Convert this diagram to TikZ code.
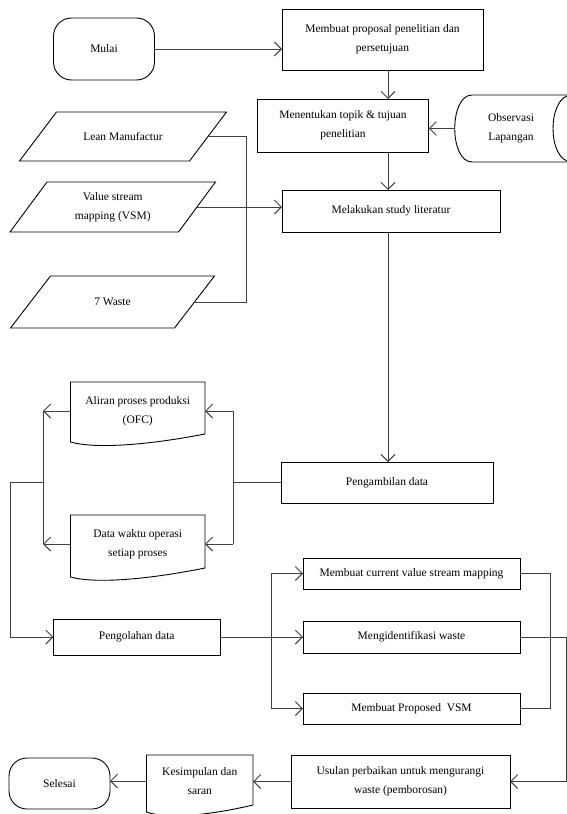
\documentclass[tikz,border=0pt]{standalone}
\usepackage{fontspec}
\setmainfont{Liberation Serif}
\usetikzlibrary{arrows.meta,calc}

% parallelogram (data input) around a node, slanted by #2
\newcommand\dataio[2]{%
  \draw[shapeline] ($(#1.north west)+(#2,0)$) -- ($(#1.north east)+(#2,0)$)
    -- ($(#1.south east)-(#2,0)$) -- ($(#1.south west)-(#2,0)$) -- cycle;}
% document shape: right depth #2, left depth #3 below the top edge
\newcommand\docshape[3]{%
  \draw[shapeline] ($(#1.north east)+(0,#2)$) coordinate (dR) -- (#1.north east)
    -- (#1.north west) -- ($(#1.north west)+(0,#3)$) coordinate (dL)
    .. controls ($(dL)!0.22!(dR)+(0,10)$) and ($(dL)!0.67!(dR)+(0,6)$) .. (dR);}

\tikzset{
  txt/.style={font=\fontsize{11.5}{19}\selectfont, align=center, inner sep=0pt, outer sep=0pt},
  proc/.style={txt, draw, line width=0.9pt},
  term/.style={txt, draw, line width=0.9pt, rounded corners=18pt},
  ghost/.style={txt},
  shapeline/.style={line width=0.9pt},
  flow/.style={line width=0.9pt, draw=black!75},
  arr/.style={flow, -{Straight Barb[length=7pt,width=14pt]}},
}

\begin{document}
\begin{tikzpicture}[x=1pt,y=-1pt]
\fill[white] (0,0) rectangle (567,814);
\clip (0,0) rectangle (567,814);

% --- preparation ---
\node[term, minimum width=101pt, minimum height=62pt] (mulai) at (104,49) {Mulai};
\node[proc, minimum width=201pt, minimum height=61pt] (proposal) at (382.5,39.5)
  {Membuat proposal penelitian dan\\persetujuan};
\node[proc, minimum width=171.5pt, minimum height=53pt] (tujuan) at (343,125.5)
  {Menentukan topik \& tujuan\\penelitian};
\node[ghost, minimum width=112pt, minimum height=67pt] (obs) at (511,128.5) {Observasi\\Lapangan};
\draw[shapeline] (575,95) -- (472,95) .. controls (449,95) and (449,162) .. (472,162) -- (575,162);
\draw[shapeline] (572,95) .. controls (546.7,95) and (546.7,162) .. (572,162);

% --- literature ---
\node[ghost, minimum width=170pt, minimum height=49pt] (lean) at (123,136.5) {Lean Manufactur};
\dataio{lean}{18.5}
\node[ghost, minimum width=168.5pt, minimum height=50pt] (vsm) at (112.75,207) {Value stream\\mapping (VSM)};
\dataio{vsm}{18.5}
\node[ghost, minimum width=164pt, minimum height=52pt] (waste) at (112.5,302) {7 Waste};
\dataio{waste}{20}
\node[proc, minimum width=218pt, minimum height=42pt] (study) at (391,211) {Melakukan study literatur};

% --- data collection ---
\node[proc, minimum width=212pt, minimum height=41pt] (ambil) at (387,482.5) {Pengambilan data};
\node[ghost, minimum width=134.5pt, minimum height=58pt] (aliran) at (137.75,411) {Aliran proses produksi\\(OFC)};
\docshape{aliran}{52}{60}
\node[ghost, minimum width=134.5pt, minimum height=58pt] (data) at (137.75,544) {Data waktu operasi\\setiap proses};
\docshape{data}{53}{62}

% --- processing ---
\node[proc, minimum width=166.5pt, minimum height=36pt] (olah) at (136.75,637) {Pengolahan data};
\node[proc, minimum width=217pt, minimum height=31pt] (cur) at (411.5,573.5) {Membuat current value stream mapping};
\node[proc, minimum width=217pt, minimum height=32pt] (ident) at (411.5,637) {Mengidentifikasi waste};
\node[proc, minimum width=217pt, minimum height=31pt] (prop) at (411.5,708.5) {Membuat Proposed \ VSM};

% --- closing ---
\node[proc, minimum width=219pt, minimum height=53pt] (usulan) at (400.5,781.5)
  {Usulan perbaikan untuk mengurangi\\waste (pemborosan)};
\node[ghost, minimum width=106.5pt, minimum height=52pt] (kes) at (199.75,781) {Kesimpulan dan\\saran};
\docshape{kes}{50}{57}
\node[term, minimum width=101pt, minimum height=51pt] (selesai) at (59.5,783.5) {Selesai};

% --- connectors ---
\coordinate (spine) at (388,0);
\coordinate (litbus) at (246,0);
\coordinate (rbus) at (233,0);
\coordinate (lbus) at (43,0);
\coordinate (edge) at (10,0);
\coordinate (pbus) at (271,0);
\coordinate (obus) at (550,0);
\coordinate (far) at (566,0);

\draw[arr] (mulai.east) -- (mulai.east -| proposal.west);
\draw[arr] (spine |- proposal.south) -- (spine |- tujuan.north);
\draw[arr] (obs.west) -- (obs.west -| tujuan.east);
\draw[arr] (spine |- tujuan.south) -- (spine |- study.north);
\draw[flow] (lean.east) -- (litbus |- lean.east) -- (litbus |- waste.east) -- (waste.east);
\draw[arr] (vsm.east) -- (vsm.east -| study.west);
\draw[arr] (spine |- study.south) -- (spine |- ambil.north);

\draw[flow] (ambil.west) -- (rbus |- ambil.west);
\draw[flow] (rbus |- aliran.east) -- (rbus |- data.east);
\draw[arr] (rbus |- aliran.east) -- (aliran.east);
\draw[arr] (rbus |- data.east) -- (data.east);
\draw[arr] (aliran.west) -- (lbus |- aliran.west);
\draw[arr] (data.west) -- (lbus |- data.west);
\draw[flow] (lbus |- aliran.west) -- (lbus |- data.west);
\draw[arr] (lbus |- ambil.west) -- (edge |- ambil.west) -- (edge |- olah.west) -- (olah.west);

\draw[arr] (olah.east) -- (ident.west);
\draw[flow] (pbus |- cur.west) -- (pbus |- prop.west);
\draw[arr] (pbus |- cur.west) -- (cur.west);
\draw[arr] (pbus |- prop.west) -- (prop.west);
\draw[flow] (cur.east) -- (obus |- cur.east) -- (obus |- prop.east) -- (prop.east);
\draw[arr] (ident.east) -- (far |- ident.east) -- (far |- usulan.east) -- (usulan.east);
\draw[arr] (usulan.west) -- (usulan.west -| kes.east);
\draw[arr] (kes.west) -- (kes.west -| selesai.east);
\end{tikzpicture}
\end{document}
